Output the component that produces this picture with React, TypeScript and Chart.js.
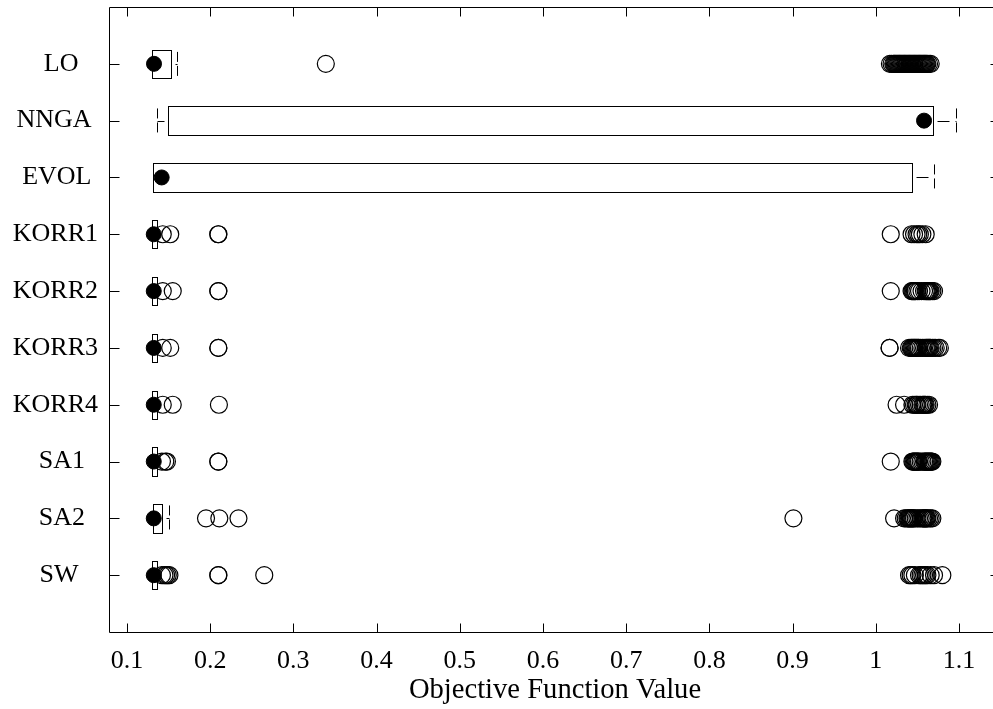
import React, { useEffect, useRef } from "react";
import { Chart, registerables } from "chart.js";

Chart.register(...registerables);

// ---- Data ----
const categories = ["LO   ", "NNGA ", "EVOL ", "KORR1", "KORR2", "KORR3", "KORR4", "SA1  ", "SA2  ", "SW   "];
const boxLow = [0.1304, 0.1497, 0.1316, 0.1304, 0.1304, 0.1304, 0.1304, 0.1304, 0.131, 0.1304];
const boxHigh = [0.1525, 1.069, 1.044, 0.1357, 0.1357, 0.1357, 0.1357, 0.1357, 0.142, 0.1357];
const whiskerLow = [0.1304, 0.1357, 0.1316, 0.1304, 0.1304, 0.1304, 0.1304, 0.1304, 0.131, 0.1304];
const whiskerHigh = [0.1605, 1.0964, 1.07, 0.1357, 0.1357, 0.1357, 0.1357, 0.1357, 0.151, 0.1357];
const medians = [0.1325, 1.058, 0.1417, 0.1322, 0.1322, 0.1322, 0.1322, 0.1322, 0.1322, 0.1322];

const outliersLO = [0.339, 1.017, 1.019, 1.021, 1.022, 1.023, 1.024, 1.025, 1.026, 1.027, 1.028, 1.029, 1.03, 1.031, 1.032, 1.033, 1.034, 1.035, 1.036, 1.037, 1.038, 1.039, 1.04, 1.041, 1.042, 1.043, 1.044, 1.045, 1.046, 1.047, 1.048, 1.049, 1.05, 1.051, 1.052, 1.053, 1.054, 1.055, 1.056, 1.057, 1.058, 1.059, 1.06, 1.061, 1.062, 1.064, 1.066];
const outliersNNGA: number[] = [];
const outliersEVOL: number[] = [];
const outliersKORR1 = [0.143, 0.152, 0.2097, 0.2099, 1.018, 1.043, 1.046, 1.049, 1.051, 1.053, 1.056, 1.06];
const outliersKORR2 = [0.143, 0.155, 0.2097, 0.2099, 1.018, 1.043, 1.044, 1.045, 1.046, 1.047, 1.048, 1.05, 1.052, 1.055, 1.058, 1.06, 1.061, 1.062, 1.063, 1.064, 1.065, 1.066, 1.068, 1.07];
const outliersKORR3 = [0.143, 0.152, 0.2097, 0.2099, 1.0165, 1.0167, 1.04, 1.042, 1.043, 1.044, 1.045, 1.046, 1.047, 1.048, 1.049, 1.05, 1.051, 1.052, 1.054, 1.056, 1.058, 1.06, 1.061, 1.062, 1.063, 1.064, 1.065, 1.066, 1.068, 1.07, 1.072, 1.075, 1.077];
const outliersKORR4 = [0.143, 0.155, 0.2105, 1.025, 1.034, 1.044, 1.046, 1.048, 1.049, 1.05, 1.052, 1.054, 1.056, 1.057, 1.058, 1.059, 1.06, 1.062, 1.064];
const outliersSA1 = [0.142, 0.146, 0.148, 0.2097, 0.2099, 1.018, 1.044, 1.045, 1.046, 1.047, 1.048, 1.049, 1.05, 1.051, 1.052, 1.054, 1.056, 1.058, 1.059, 1.06, 1.061, 1.062, 1.063, 1.064, 1.065, 1.066, 1.067, 1.068];
const outliersSA2 = [0.195, 0.211, 0.234, 0.901, 1.022, 1.034, 1.036, 1.038, 1.039, 1.04, 1.041, 1.042, 1.043, 1.044, 1.045, 1.046, 1.048, 1.05, 1.052, 1.054, 1.056, 1.057, 1.058, 1.059, 1.06, 1.061, 1.062, 1.064, 1.066, 1.068];
const outliersSW = [0.142, 0.145, 0.147, 0.149, 0.151, 0.2097, 0.2099, 0.265, 1.04, 1.042, 1.044, 1.047, 1.052, 1.054, 1.056, 1.058, 1.06, 1.062, 1.066, 1.07, 1.08];

const outlierRows = [outliersLO, outliersNNGA, outliersEVOL, outliersKORR1, outliersKORR2, outliersKORR3, outliersKORR4, outliersSA1, outliersSA2, outliersSW];

const xTicks = [0.1, 0.2, 0.3, 0.4, 0.5, 0.6, 0.7, 0.8, 0.9, 1, 1.1];
const xTickLabels = ["0.1", "0.2", "0.3", "0.4", "0.5", "0.6", "0.7", "0.8", "0.9", "1", "1.1"];
const xMin = 0.0784;
const xMax = 1.1505;
const xTitle = "Objective Function Value";

const FONT = "'Liberation Serif', 'Times New Roman', serif";
const BOX_HALF = 0.25;

const boxPlugin = {
  id: "boxPlot",
  beforeDatasetsDraw(chart: any) {
    const { ctx, scales, chartArea } = chart;
    const x = scales.x;
    const y = scales.y;
    ctx.save();
    ctx.strokeStyle = "#000";
    ctx.lineWidth = 1;
    ctx.setLineDash([]);
    const L = Math.round(chartArea.left) + 0.5;
    const T = Math.round(chartArea.top) + 0.5;
    const B = Math.round(chartArea.bottom) + 0.5;
    const R = Math.round(chartArea.right) - 0.5;
    ctx.beginPath();
    ctx.moveTo(L, T); ctx.lineTo(R, T); ctx.lineTo(R, B); ctx.lineTo(L, B); ctx.closePath();
    ctx.stroke();
    ctx.beginPath();
    xTicks.forEach((v) => {
      const px = Math.round(x.getPixelForValue(v)) + 0.5;
      ctx.moveTo(px, B); ctx.lineTo(px, B - 9);
      ctx.moveTo(px, T); ctx.lineTo(px, T + 9);
    });
    categories.forEach((_, i) => {
      const py = Math.round(y.getPixelForValue(i + 1)) + 0.5;
      ctx.moveTo(L, py); ctx.lineTo(L + 10, py);
      ctx.moveTo(R, py); ctx.lineTo(R - 10, py);
    });
    ctx.stroke();

    categories.forEach((_, i) => {
      const yc = Math.round(y.getPixelForValue(i + 1)) + 0.5;
      const ya = y.getPixelForValue(i + 1 - BOX_HALF);
      const yb = y.getPixelForValue(i + 1 + BOX_HALF);
      const yt = Math.round(Math.min(ya, yb)) + 0.5;
      const ybt = Math.round(Math.max(ya, yb)) + 0.5;
      const x1 = Math.round(x.getPixelForValue(boxLow[i])) + 0.5;
      const x3 = Math.round(x.getPixelForValue(boxHigh[i])) + 0.5;
      ctx.setLineDash([]);
      ctx.strokeRect(x1, yt, x3 - x1, ybt - yt);
      const capH = (ybt - yt) * 0.9;
      const drawWhisker = (from: number, to: number) => {
        if (Math.abs(to - from) < 2) return;
        ctx.setLineDash([12, 6]);
        ctx.lineDashOffset = 14;
        ctx.beginPath();
        ctx.moveTo(from, yc);
        ctx.lineTo(to, yc);
        ctx.stroke();
        ctx.setLineDash([10, 4]);
        ctx.lineDashOffset = 0;
        ctx.beginPath();
        ctx.moveTo(to, yc - capH / 2);
        ctx.lineTo(to, yc + capH / 2);
        ctx.stroke();
      };
      const wl = Math.round(x.getPixelForValue(whiskerLow[i])) + 0.5;
      const wh = Math.round(x.getPixelForValue(whiskerHigh[i])) + 0.5;
      drawWhisker(x1, wl);
      drawWhisker(x3, wh);
    });
    ctx.restore();
  },
  afterDraw(chart: any) {
    const { ctx, scales, chartArea } = chart;
    const x = scales.x;
    const y = scales.y;
    ctx.save();
    ctx.fillStyle = "#000";
    ctx.font = `26px ${FONT}`;
    ctx.textAlign = "right";
    ctx.textBaseline = "middle";
    categories.forEach((c, i) => {
      ctx.fillText(c, chartArea.left - 11, y.getPixelForValue(i + 1));
    });
    ctx.textAlign = "center";
    ctx.textBaseline = "alphabetic";
    xTicks.forEach((v, i) => {
      ctx.fillText(xTickLabels[i], x.getPixelForValue(v), 668);
    });
    ctx.font = `28.6px ${FONT}`;
    ctx.fillText(xTitle, (chartArea.left + chartArea.right) / 2, 698);
    ctx.restore();
  },
};

export default function App() {
  const ref = useRef<HTMLCanvasElement | null>(null);
  useEffect(() => {
    document.body.style.margin = "0";
    const canvas = ref.current;
    if (!canvas) return;
    const outlierData = outlierRows.flatMap((arr, i) => arr.map((v) => ({ x: v, y: i + 1 })));
    const medianData = medians.map((v, i) => ({ x: v, y: i + 1 }));
    const chart = new Chart(canvas, {
      type: "scatter",
      data: {
        datasets: [
          {
            label: "Median",
            data: medianData,
            pointRadius: 7.5,
            pointHoverRadius: 7.5,
            backgroundColor: "#000",
            borderColor: "#000",
            borderWidth: 1,
          },
          {
            label: "Outliers",
            data: outlierData,
            pointRadius: 8.5,
            pointHoverRadius: 8.5,
            backgroundColor: "rgba(0,0,0,0)",
            borderColor: "#000",
            borderWidth: 1.2,
          },
        ],
      },
      options: {
        responsive: false,
        animation: false,
        devicePixelRatio: 1,
        layout: { autoPadding: false, padding: { top: 7, right: 0, bottom: 0, left: 0 } },
        plugins: { legend: { display: false }, tooltip: { enabled: false } },
        scales: {
          x: {
            type: "linear",
            min: xMin,
            max: xMax,
            border: { display: false },
            grid: { display: false, drawTicks: false },
            ticks: { display: false },
            afterFit: (s: any) => {
              s.height = 77;
              s.paddingLeft = 0;
              s.paddingRight = 0;
            },
          },
          y: {
            type: "linear",
            min: 0,
            max: 11,
            reverse: true,
            border: { display: false },
            grid: { display: false, drawTicks: false },
            ticks: { display: false },
            afterFit: (s: any) => {
              s.width = 109;
              s.paddingTop = 0;
              s.paddingBottom = 0;
            },
          },
        },
      },
      plugins: [boxPlugin],
    } as any);
    return () => chart.destroy();
  }, []);
  return (
    <div style={{ width: 993, height: 709, overflow: "hidden", background: "#fff" }}>
      <canvas ref={ref} width={1001} height={709} style={{ display: "block" }} />
    </div>
  );
}
